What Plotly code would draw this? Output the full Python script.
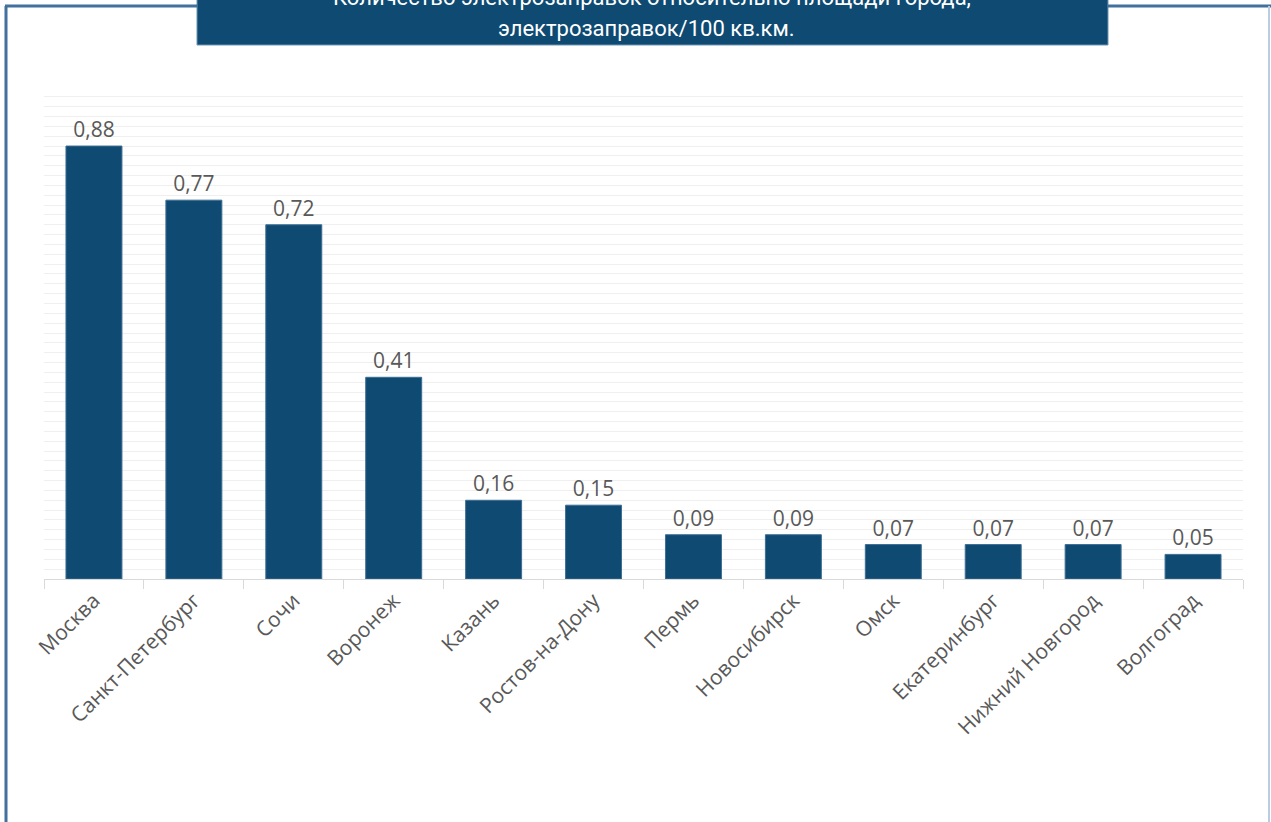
import plotly.graph_objects as go

cities = ["Москва", "Санкт-Петербург", "Сочи", "Воронеж", "Казань", "Ростов-на-Дону",
          "Пермь", "Новосибирск", "Омск", "Екатеринбург", "Нижний Новгород", "Волгоград"]
values = [0.88, 0.77, 0.72, 0.41, 0.16, 0.15, 0.09, 0.09, 0.07, 0.07, 0.07, 0.05]
title_line1 = "Количество электрозаправок относительно площади города,"
title_line2 = "электрозаправок/100 кв.км."

W, H = 1271, 822
ML, MR, MT, MB = 44, 28, 88, 243
PW = W - ML - MR
PH = H - MT - MB

def px(x):
    return (x - ML) / PW

def py(y):
    return (H - MB - y) / PH

navy = "#0e4a72"
border = "#41719c"

fig = go.Figure(go.Bar(
    x=cities, y=values,
    marker=dict(color=navy, line=dict(color="#3d6e95", width=1)),
    texttemplate="%{y:.2f}", textposition="outside",
    textfont=dict(family="Open Sans", size=21, color="#595959"),
    cliponaxis=False,
))

fig.update_layout(
    width=W, height=H,
    margin=dict(l=ML, r=MR, t=MT, b=MB),
    paper_bgcolor="white", plot_bgcolor="white",
    separators=", ",
    bargap=0.44,
    showlegend=False,
    xaxis=dict(
        tickangle=-45, tickfont=dict(family="Open Sans", size=21, color="#595959"),
        showline=True, linecolor="#d9d9d9", linewidth=1,
        ticks="outside", tickson="boundaries", ticklen=9, tickcolor="#d9d9d9",
        showgrid=False,
    ),
    yaxis=dict(
        range=[0, 0.998], dtick=0.02, showticklabels=False,
        showgrid=True, gridcolor="#efefef", gridwidth=1, zeroline=False,
    ),
    shapes=[
        dict(type="rect", xref="paper", yref="paper",
             x0=px(197), x1=px(1108), y0=py(45), y1=py(-20),
             fillcolor=navy, line=dict(color="#6f95b5", width=1), layer="above"),
        dict(type="line", xref="paper", yref="paper",
             x0=px(6), x1=px(6), y0=py(6), y1=py(H + 5),
             line=dict(color=border, width=3)),
        dict(type="line", xref="paper", yref="paper",
             x0=px(5), x1=px(197), y0=py(6), y1=py(6),
             line=dict(color=border, width=3)),
        dict(type="line", xref="paper", yref="paper",
             x0=px(1108), x1=px(1272), y0=py(6), y1=py(6),
             line=dict(color=border, width=3)),
        dict(type="line", xref="paper", yref="paper",
             x0=px(1269), x1=px(1269), y0=py(6), y1=py(H + 5),
             line=dict(color="#b7cde0", width=2)),
    ],
    annotations=[
        dict(text=title_line1, xref="paper", yref="paper", x=px(652), y=py(-3),
             showarrow=False, xanchor="center", yanchor="middle",
             font=dict(family="Roboto", size=22, color="white")),
        dict(text=title_line2, xref="paper", yref="paper", x=px(646), y=py(28),
             showarrow=False, xanchor="center", yanchor="middle",
             font=dict(family="Roboto", size=22, color="white")),
    ],
)

fig.write_html("out.html", config={"displayModeBar": False},
               post_script="document.body.style.margin='0';document.body.style.overflow='hidden';")
